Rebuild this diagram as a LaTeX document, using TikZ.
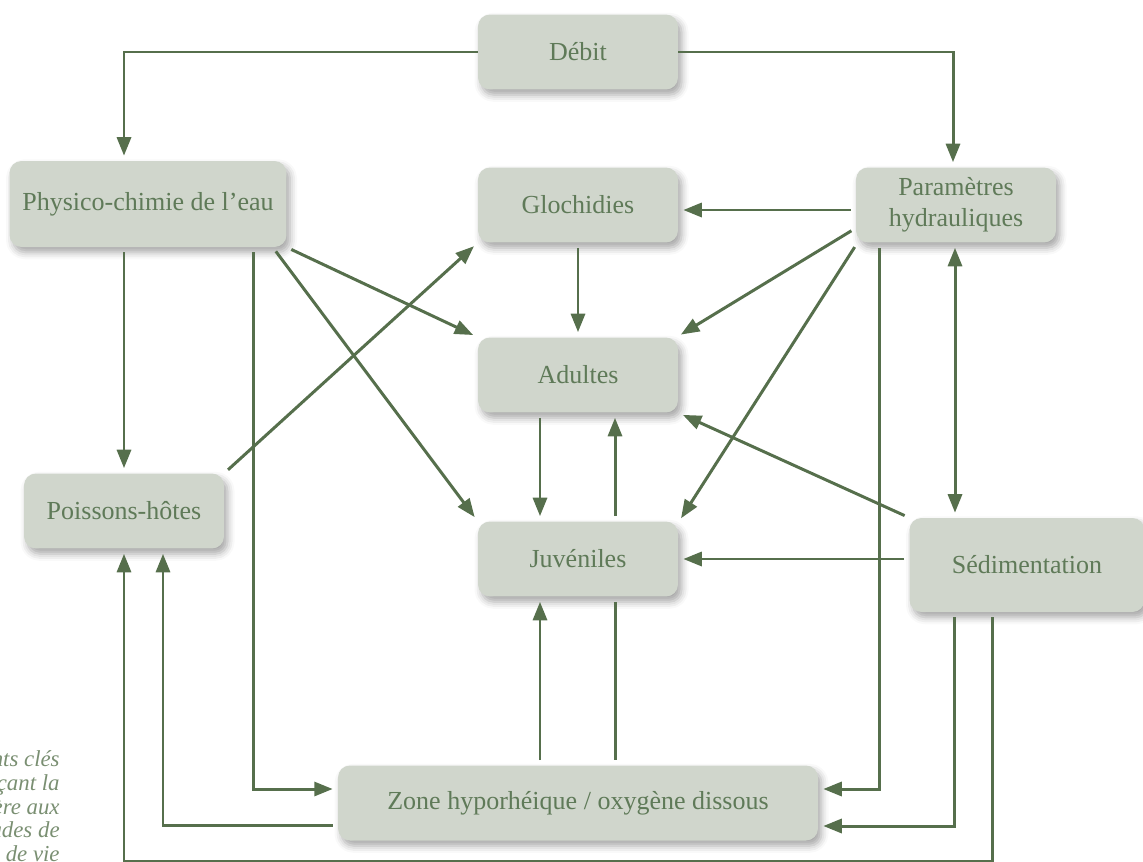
\documentclass[tikz,border=0pt]{standalone}
\usepackage{fontspec}
\setmainfont{Liberation Serif}
\usetikzlibrary{arrows.meta,calc,shadows.blur}

\begin{document}
\begin{tikzpicture}[x=0.02cm,y=-0.02cm,
		box/.style={rectangle,rounded corners=0.24cm,fill=boxgrey,text=textgreen,align=center,
			minimum width=4cm,minimum height=1.5cm,inner sep=2pt,
			font=\fontsize{14.8}{17.5}\selectfont,
			blur shadow={shadow xshift=2pt,shadow yshift=-3pt,shadow blur radius=4pt,shadow opacity=35}},
		link/.style={line width=1.7pt,draw=linegreen,shorten <=0.1cm,shorten >=0.1cm},
		pfeil/.style={link,-{Triangle[length=10.5pt,width=8pt]}},
		doppelpfeil/.style={link,{Triangle[length=10.5pt,width=8pt]}-{Triangle[length=10.5pt,width=8pt]}}]
			\definecolor{boxgrey}{HTML}{D0D6CC}
			\definecolor{textgreen}{HTML}{5F7A58}
			\definecolor{linegreen}{HTML}{566F4C}
			\definecolor{notegreen}{HTML}{7A8F72}
			\useasboundingbox (0,0) rectangle (1143,862);
			\clip (0,0) rectangle (1143,862);
			
			% Boxen
			\node[box] (debit) at (578,52) {Débit};
			\node[box,minimum width=5.54cm,minimum height=1.72cm] (physico) at (148,204) {Physico-chimie de l’eau};
			\node[box] (glochidies) at (578,205) {Glochidies};
			\node[box] (parametres) at (956,205) {Paramètres\\hydrauliques};
			\node[box] (adultes) at (578,375) {Adultes};
			\node[box] (poissons) at (124,511) {Poissons-hôtes};
			\node[box] (juveniles) at (578,559) {Juvéniles};
			\node[box,minimum width=4.7cm,minimum height=1.88cm] (sedimentation) at (1027,565) {Sédimentation};
			\node[box,minimum width=9.6cm] (zone) at (578,803) {Zone hyporhéique / oxygène dissous};
			\coordinate (unten) at (0,861);
			
			% Débit
			\draw[pfeil,shorten <=0pt] (debit.west) -| (poissons.north |- physico.north);
			\draw[pfeil,shorten <=0pt] (debit.east) -| ($(parametres.north)+(-3,0)$);
			% Paramètres hydrauliques
			\draw[pfeil] ($(parametres.west)+(0,5)$) -- ($(glochidies.east)+(0,5)$);
			\draw[pfeil] (parametres.193) -- (adultes.21);
			\draw[pfeil] (parametres.201) -- (juveniles.20);
			\draw[pfeil] ($(parametres.south west)+(24,0)$) |- ($(zone.east)+(0,-14)$);
			\draw[doppelpfeil] ($(parametres.south)+(-1,0)$) -- ($(parametres.south |- sedimentation.north)+(-1,0)$);
			% Physico-chimie
			\draw[pfeil] (physico.south east) -- (adultes.north west);
			\draw[pfeil] ($(physico.south east)+(-14,0)$) -- (juveniles.north west);
			\draw[pfeil] (poissons.north |- physico.south) -- (poissons.north);
			\draw[pfeil] ($(physico.south east)+(-33,0)$) |- ($(zone.west)+(0,-14)$);
			% Poissons-hôtes
			\draw[pfeil] (poissons.north east) -- (glochidies.south west);
			% Glochidies / Adultes / Juvéniles
			\draw[pfeil] (glochidies.south) -- (adultes.north);
			\draw[pfeil] ($(adultes.south)+(-38,0)$) -- ($(juveniles.north)+(-38,0)$);
			\draw[pfeil] ($(juveniles.north)+(37,0)$) -- ($(adultes.south)+(37,0)$);
			% Sédimentation
			\draw[pfeil] (sedimentation.north west) -- (adultes.south east);
			\draw[pfeil] (juveniles.east -| sedimentation.west) -- (juveniles.east);
			\draw[pfeil] ($(sedimentation.south west)+(45,0)$) |- ($(zone.east)+(0,23)$);
			\draw[pfeil] ($(sedimentation.south west)+(83,0)$) |- (poissons.south |- unten) -- (poissons.south);
			% Zone hyporhéique
			\draw[pfeil] ($(zone.north)+(-38,0)$) -- ($(juveniles.south)+(-38,0)$);
			\draw[link] ($(juveniles.south)+(37,0)$) -- ($(zone.north)+(37,0)$);
			\draw[pfeil] ($(zone.west)+(0,22)$) -| ($(poissons.south)+(39,0)$);
			
			% Legende (abgeschnitten)
			\node[anchor=north east,align=right,text=notegreen,inner sep=0pt,
				font=\fontsize{13}{13.6}\selectfont\itshape] (legende) at (60,750)
				{nts clés\\çant la\\ère aux\\ades de\\de vie};
			
			\end{tikzpicture}
\end{document}
